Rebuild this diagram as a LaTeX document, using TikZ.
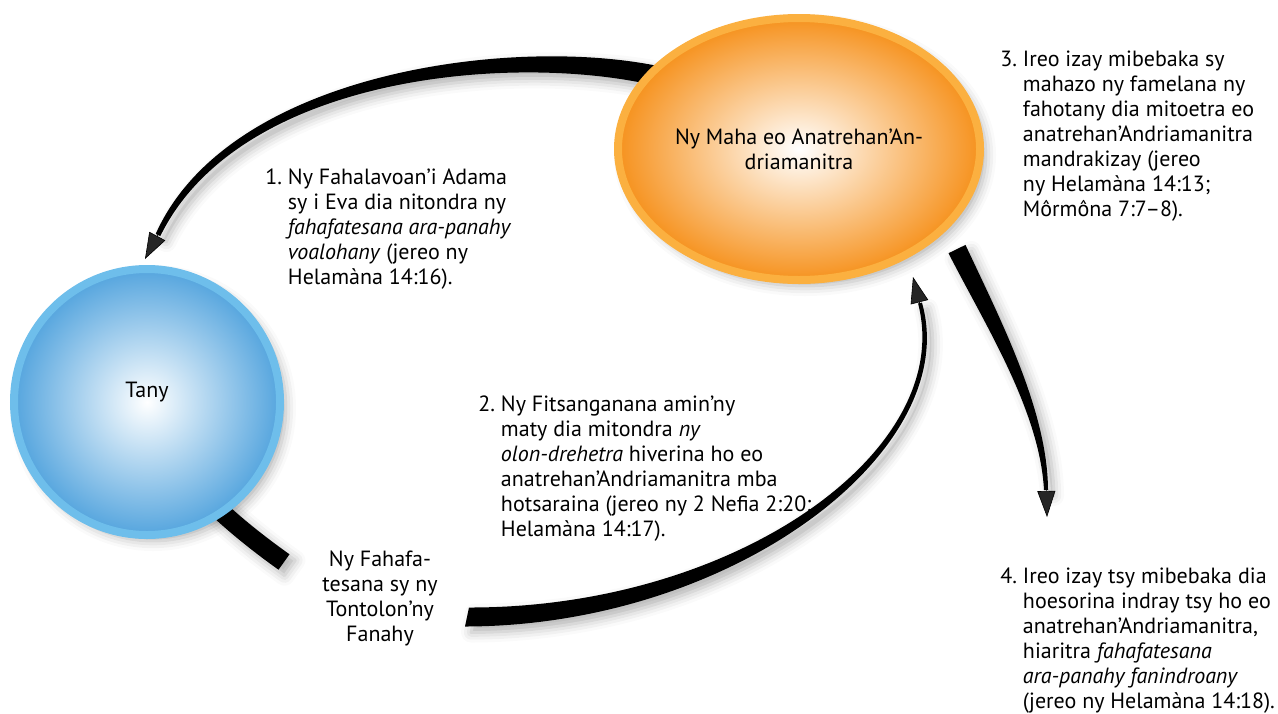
\documentclass[tikz,border=0pt]{standalone}
\usepackage{fontspec}
\setmainfont{PT Sans}
\usepackage{tikz}
\usetikzlibrary{shapes.geometric, shadows.blur, arrows.meta, backgrounds}
\definecolor{mahaRing}{RGB}{251,176,64}
\definecolor{mahaEdge}{RGB}{246,146,30}
\definecolor{tanyRing}{RGB}{110,190,235}
\definecolor{tanyEdge}{RGB}{85,165,222}

\begin{document}
\begin{tikzpicture}[x=0.5pt, y=-0.5pt, font=\fontsize{11}{12.5}\selectfont,
    softshadow/.style={blur shadow={shadow xshift=3pt, shadow yshift=-3pt, shadow blur radius=5pt, shadow opacity=30}},
    band/.style={fill=black, softshadow},
    head/.style={line width=0.3pt, -{Triangle[length=13pt, width=9pt]}},
    note/.style={anchor=base west, inner sep=0pt}]

    % pixel grid of the page: 1278 x 713, y going down
    \useasboundingbox (0,0) rectangle (1278,713);

    % ==========================================
    % THE TWO PLACES
    % ==========================================

    \node[ellipse, minimum width=181pt, minimum height=131pt, inner sep=0pt,
          draw=mahaRing, line width=4pt, inner color=white, outer color=mahaEdge,
          softshadow, align=center] (maha) at (799,149)
          {Ny Maha eo Anatrehan’An-\\driamanitra};

    \node[circle, minimum size=133pt, inner sep=0pt, text depth=12pt,
          draw=tanyRing, line width=4pt, inner color=white, outer color=tanyEdge,
          softshadow] (tany) at (147,402) {Tany};

    \node[align=center, inner sep=0pt] (fanahy) at (380,598)
          {Ny Fahafa-\\tesana sy ny\\Tontolon’ny\\Fanahy};

    % ==========================================
    % THE FOUR NOTES
    % ==========================================

    \node[note] (fall) at (265,184) {\begin{tabular}[t]{@{}l@{\ }l@{}}
        1. & Ny Fahalavoan’i Adama\\
           & sy i Eva dia nitondra ny\\
           & \textit{fahafatesana ara-panahy}\\
           & \textit{voalohany} (jereo ny\\
           & Helamàna 14:16).
    \end{tabular}};

    \node[note] (rise) at (478,411) {\begin{tabular}[t]{@{}l@{\ }l@{}}
        2. & Ny Fitsanganana amin’ny\\
           & maty dia mitondra \textit{ny}\\
           & \textit{olon-drehetra} hiverina ho eo\\
           & anatrehan’Andriamanitra mba\\
           & hotsaraina (jereo ny 2 Nefia 2:20;\\
           & Helamàna 14:17).
    \end{tabular}};

    \node[note] (stay) at (1000,66) {\begin{tabular}[t]{@{}l@{\ }l@{}}
        3. & Ireo izay mibebaka sy\\
           & mahazo ny famelana ny\\
           & fahotany dia mitoetra eo\\
           & anatrehan’Andriamanitra\\
           & mandrakizay (jereo\\
           & ny Helamàna 14:13;\\
           & Môrmôna 7:7–8).
    \end{tabular}};

    \node[note] (away) at (1000,583) {\begin{tabular}[t]{@{}l@{\ }l@{}}
        4. & Ireo izay tsy mibebaka dia\\
           & hoesorina indray tsy ho eo\\
           & anatrehan’Andriamanitra,\\
           & hiaritra \textit{fahafatesana}\\
           & \textit{ara-panahy fanindroany}\\
           & (jereo ny Helamàna 14:18).
    \end{tabular}};

    % ==========================================
    % TAPERED ARROWS (under the places)
    % ==========================================

    \coordinate (fall-back) at (166,220);
    \coordinate (fall-tip) at (145,259);
    \coordinate (rise-back) at (923,316);
    \coordinate (rise-tip) at (913,277);
    \coordinate (away-back) at (1046,477);
    \coordinate (away-tip) at (1047,517);

    \begin{scope}[on background layer]
        % 1: from the presence of God down to the earth
        \fill[band] (693.3,75.5) .. controls (563.3,30.5) and (234.6,57.5) .. (155.7,233.9)
            -- (160.3,236.1) .. controls (245.4,62.5) and (556.7,49.5) .. (686.7,94.5) -- cycle;
        \draw[head] (fall-back) -- (fall-tip);

        % stub leaving the earth
        \fill[band] (182.9,486.3) .. controls (206.2,512.9) and (239.2,541.7) .. (278.5,569.7)
            -- (289.5,554.3) .. controls (250.2,526.3) and (220.4,500.5) .. (197.1,473.8) -- cycle;

        % 2: back up to the presence of God
        \fill[band] (465,626.5) .. controls (735,626) and (963.9,449) .. (921.9,302.5)
            -- (918.1,303.5) .. controls (956.1,451.1) and (735,608) .. (469,607.5) -- cycle;
        \draw[head] (rise-back) -- (rise-tip);

        % 4: cast out again
        \fill[band] (948.5,253.2) .. controls (984.8,324.5) and (1039.6,410.1) .. (1044,490.1)
            -- (1048,489.9) .. controls (1047.6,409.9) and (999.2,317.5) .. (965.5,244.9) -- cycle;
        \draw[head] (away-back) -- (away-tip);
    \end{scope}

\end{tikzpicture}
\end{document}
